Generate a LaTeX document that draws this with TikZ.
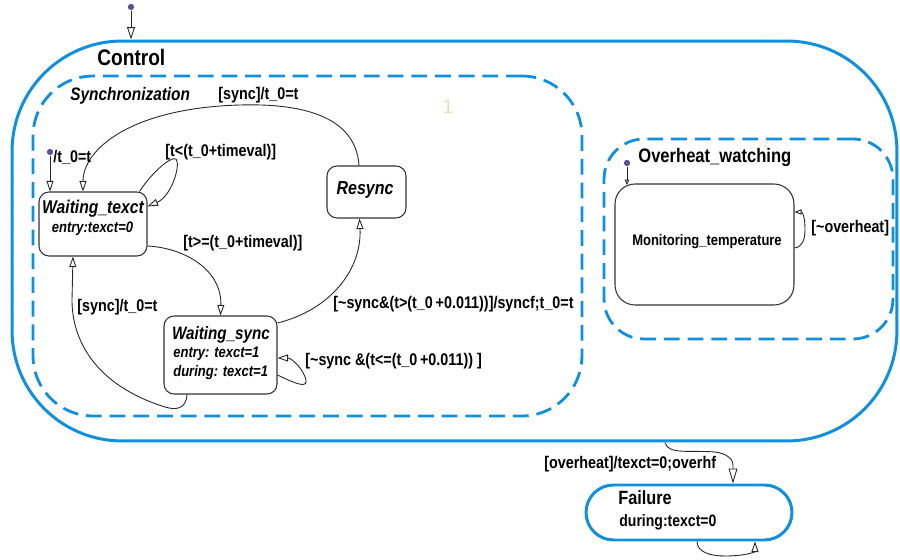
\documentclass[tikz,border=0pt]{standalone}
\usepackage{fontspec}
\setmainfont{Liberation Sans}
\newfontfamily\narrowsf[FakeStretch=0.85]{Liberation Sans}
\usetikzlibrary{arrows.meta,positioning}
\definecolor{chartblue}{RGB}{16,144,220}
\definecolor{dotblue}{RGB}{84,84,150}
\definecolor{orderbeige}{RGB}{232,220,196}

\begin{document}
\begin{tikzpicture}[x=0.02cm,y=-0.02cm,
  region/.style={draw=chartblue,line width=1.7pt,inner sep=0pt},
  subregion/.style={draw=chartblue,line width=1.6pt,dash pattern=on 9pt off 4.5pt,inner sep=0pt},
  state/.style={draw=black!80,line width=0.6pt,rounded corners=0.2cm,inner sep=0pt},
  regname/.style={font=\narrowsf\bfseries\fontsize{12.8}{14}\selectfont,anchor=base west,inner sep=0pt},
  stname/.style={font=\narrowsf\bfseries\itshape\fontsize{10.5}{12}\selectfont,anchor=base,inner sep=0pt},
  stact/.style={font=\narrowsf\bfseries\itshape\fontsize{8.7}{10}\selectfont,anchor=base west,inner sep=0pt},
  lbl/.style={font=\narrowsf\bfseries\fontsize{9.6}{11}\selectfont,anchor=base west,inner sep=0pt},
  initdot/.style={circle,fill=dotblue,inner sep=0pt,minimum size=3.6pt},
  trans/.style={draw=black!85,line width=0.5pt,-{Triangle[open,length=6pt,width=4pt]}},
  order/.style={text=orderbeige,inner sep=0pt,anchor=base}]
\useasboundingbox (0,0) rectangle (900,560);

% regions
\node[region,minimum width=17.7cm,minimum height=8cm,rounded corners=2.2cm] (control) at (454.5,241) {};
\node[subregion,minimum width=10.98cm,minimum height=6.8cm,rounded corners=1.2cm] (syncreg) at (307.5,246) {};
\node[subregion,minimum width=5.78cm,minimum height=4cm,rounded corners=0.8cm] (ohreg) at (748.5,239) {};
\node[region,minimum width=4.12cm,minimum height=1.1cm,rounded corners=0.55cm] (failure) at (689,512.5) {};

% states
\node[state,minimum width=2.16cm,minimum height=1.28cm] (wt) at (93,224) {};
\node[state,minimum width=1.58cm,minimum height=1.04cm] (resync) at (366.5,192) {};
\node[state,minimum width=2.26cm,minimum height=1.56cm] (ws) at (220.5,355) {};
\node[state,minimum width=3.58cm,minimum height=2.42cm,rounded corners=0.4cm] (mon) at (704.5,244.5) {};

% names
\node[regname] (controlname) at (97,66) {Control};
\node[regname,font=\narrowsf\bfseries\itshape\fontsize{10.3}{12}\selectfont] (syncname) at (70,100.5) {Synchronization};
\node[regname,font=\narrowsf\bfseries\fontsize{11.1}{13}\selectfont] (ohname) at (638,163) {Overheat\_watching};
\node[order,font=\fontsize{11}{12}\selectfont] (ord1) at (448,114) {1};
\node[order,font=\fontsize{6}{7}\selectfont] (ord2) at (766,148) {2};
\node[stname] (wtname) at (93,214) {Waiting\_texct};
\node[stname,font=\narrowsf\bfseries\itshape\fontsize{8.7}{10}\selectfont] (wtentry) at (92.5,233) {entry:texct=0};
\node[stname,font=\narrowsf\bfseries\itshape\fontsize{10.7}{12}\selectfont] (resyncname) at (365,195) {Resync};
\node[stname,font=\narrowsf\bfseries\itshape\fontsize{10.2}{12}\selectfont] (wsname) at (221,340) {Waiting\_sync};
\node[stact] (wsentry) at (173,358) {entry: texct=1};
\node[stact] (wsduring) at (173,377) {during: texct=1};
\node[stname,font=\narrowsf\bfseries\fontsize{8.7}{10}\selectfont] (monname) at (707,246) {Monitoring\_temperature};
\node[regname,font=\narrowsf\bfseries\fontsize{10.9}{12}\selectfont] (failname) at (618,505) {Failure};
\node[lbl,font=\narrowsf\bfseries\fontsize{9.4}{11}\selectfont] (failduring) at (619,527) {during:texct=0};

% defaults
\node[initdot] (init0) at (131,7) {};
\node[initdot] (init1) at (50,152) {};
\node[initdot] (init2) at (627,163) {};
\draw[trans,-{Triangle[open,length=7pt,width=4.5pt]}] (init0) -- (control.north -| init0);
\draw[trans] (init1) -- (wt.north -| init1);
\draw[trans,-{Triangle[open,length=3pt,width=2.5pt]}] (init2) -- (627,185);

% transitions
\draw[trans] ([xshift=-0.15cm]resync.north) .. controls (356,120) and (310,103) .. (240,105)
  .. controls (130,108) and (83,150) .. ([xshift=-0.2cm]wt.north);
\draw[trans] ([xshift=-0.16cm]wt.north east) .. controls (150,175) and (170,156) .. (176,159)
  .. controls (181,164) and (172,196) .. ([yshift=-0.3cm]wt.north east);
\draw[trans] ([yshift=-0.44cm]wt.east) .. controls (185,248) and (222,270) .. (ws.north);
\draw[trans] ([xshift=-0.67cm]ws.south) .. controls (186,410) and (175,410) .. (165,407)
  .. controls (95,385) and (72,340) .. (72,300) -- ([xshift=-0.4cm]wt.south);
\draw[trans] ([yshift=0.64cm]ws.east) .. controls (330,310) and (362,270) .. ([xshift=-0.14cm]resync.south);
\draw[trans] ([yshift=-0.4cm]ws.east) .. controls (290,381) and (308,390) .. (306,380)
  .. controls (304,370) and (292,358) .. ([yshift=-0.06cm]ws.east);
\draw[trans,-{Triangle[open,length=4pt,width=3pt]}] ([yshift=-0.07cm]mon.east) .. controls (802,247) and (805,240) .. (805,230)
  .. controls (805,218) and (803,212) .. ([yshift=0.65cm]mon.east);
\draw[trans,-{Triangle[open,length=8.5pt,width=5pt]}] ([xshift=4.21cm]control.south) .. controls (668,455) and (690,450) .. (715,452)
  .. controls (735,455) and (733,465) .. ([xshift=0.88cm]failure.north);
\draw[trans] ([xshift=0.16cm]failure.south) .. controls (697,552) and (710,556) .. (725,556)
  .. controls (745,556) and (755,552) .. ([xshift=1.32cm]failure.south);

% labels
\node[lbl] (lbl1) at (218,100) {[sync]/t\_0=t};
\node[lbl] (lbl2) at (53,163) {/t\_0=t};
\node[lbl] (lbl3) at (165,157) {[t<(t\_0+timeval)]};
\node[lbl] (lbl4) at (183,248) {[t>=(t\_0+timeval)]};
\node[lbl] (lbl5) at (77,312) {[sync]/t\_0=t};
\node[lbl] (lbl6) at (333,309) {[\textasciitilde sync\&(t>(t\_0\,+0.011))]/syncf;t\_0=t};
\node[lbl] (lbl7) at (305,366) {[\textasciitilde sync \&(t<=(t\_0\,+0.011)) ]};
\node[lbl] (lbl8) at (811,233) {[\textasciitilde overheat]};
\node[lbl] (lbl9) at (544,469) {[overheat]/texct=0;overhf};
\end{tikzpicture}
\end{document}
